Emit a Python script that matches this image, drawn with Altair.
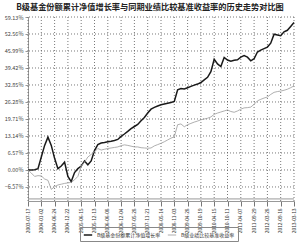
import altair as alt
import pandas as pd

TITLE = "B级基金份额累计净值增长率与同期业绩比较基准收益率的历史走势对比图"
SERIES = ["B级基金份额累计净值增长率", "B级业绩比较基准收益率"]

DATE_LABELS = ["2003-07-17", "2004-01-02", "2004-06-24", "2004-12-22", "2005-06-15",
               "2005-12-13", "2006-06-08", "2006-12-04", "2007-05-28", "2007-11-21",
               "2008-05-14", "2008-11-03", "2009-04-28", "2009-10-19", "2010-04-15",
               "2010-10-11", "2011-04-07", "2011-09-29", "2012-03-28", "2012-09-18",
               "2013-03-13"]

Y_TICKS = [-6.57, 0.0, 6.57, 13.14, 19.71, 26.28, 32.85, 39.42, 45.99, 52.56, 59.13]

FUND = [0, 0, 0.1, 0.5, 5, 9.5, 12.7, 9.5, 4.5, 0.5,
        1.5, 3, -2.5, -4.5, -1, 0.5, 1.5, 3.5, 2, 3.5,
        7.5, 9.8, 10.4, 10.6, 10.9, 11.1, 11.4, 11.8, 13, 13.9,
        14.9, 16, 16.8, 17.6, 19, 20.3, 22, 23.5, 24.2, 24.7,
        25.2, 25.5, 25.8, 26.1, 26.5, 31, 31.5, 31.3, 31.8, 32.3,
        32.8, 33.2, 33.8, 34.8, 35.8, 38, 42.8, 41, 40, 43.5,
        42.5, 42, 42.4, 42.6, 43.6, 44.2, 43.6, 42.2, 43, 45.6,
        46.3, 46.9, 47.5, 49, 52.5, 52.2, 51.9, 53.4, 54, 55.5,
        57]

BENCH = [0, -1.2, -2.5, -2.2, -2.3, -3.5, -4, -7.5, -6.5, -5.8,
         -5.5, -5.2, -5, -4.8, -3.8, -2.5, 1.5, 3, 5, 6,
         7, 8.3, 7.7, 8, 8.3, 8.5, 8.7, 8.9, 9.4, 9.7,
         9.5, 9.2, 8.9, 8.9, 8.6, 8.5, 8.4, 8.5, 9.3, 9.8,
         10.3, 10.9, 11.6, 12.3, 12.8, 17.5, 17.8, 16.7, 17.5, 18,
         18.5, 18.9, 19.4, 19.7, 20, 20.5, 21.5, 22, 22.4, 22.8,
         23.2, 22.6, 22.3, 22.8, 23.5, 24, 24.1, 24.3, 25.4, 26.7,
         27.3, 27.8, 28.2, 29.2, 30, 30.3, 30.5, 30.8, 31.2, 31.8,
         32.5]

STEPS_PER_LABEL = 4
idx = list(range(len(FUND)))
df = pd.DataFrame({
    "i": idx * 2,
    "v": FUND + BENCH,
    "s": [SERIES[0]] * len(FUND) + [SERIES[1]] * len(BENCH),
})

x_ticks = [k * STEPS_PER_LABEL for k in range(len(DATE_LABELS))]
label_js = "[" + ",".join("'" + d + "'" for d in DATE_LABELS) + "]"

FONT = "Noto Sans CJK SC"

x_scale = alt.Scale(domain=[0, (len(DATE_LABELS) - 1) * STEPS_PER_LABEL], nice=False, zero=False)
y_scale = alt.Scale(domain=[-12.0, 59.13], nice=False, zero=False)

X_AXIS = alt.Axis(values=x_ticks, title=None,
                  labelExpr=label_js + "[round(datum.value/" + str(STEPS_PER_LABEL) + ")]",
                  labelAngle=270, labelAlign="right", labelBaseline="middle",
                  labelFontSize=4.8, labelColor="#333", labelFont=FONT, labelPadding=2,
                  labelOverlap=False, grid=False,
                  tickSize=5, tickColor="#777",
                  domainColor="#999", domainWidth=1)
Y_AXIS = alt.Axis(values=Y_TICKS, title=None,
                  labelExpr="format(datum.value, '.2f') + '%'",
                  labelFontSize=5.5, labelColor="#444", labelFont=FONT, labelPadding=2,
                  labelOverlap=False, grid=False,
                  tickSize=3, tickColor="#999",
                  domainColor="#999", domainWidth=1)

grid_y = alt.Chart(pd.DataFrame({"v": Y_TICKS})).mark_rule(
    color="#555", strokeWidth=0.8, strokeDash=[1, 2]
).encode(y=alt.Y("v:Q", scale=y_scale, axis=Y_AXIS))

grid_x = alt.Chart(pd.DataFrame({"i": x_ticks})).mark_rule(
    color="#555", strokeWidth=0.8, strokeDash=[1, 2]
).encode(x=alt.X("i:Q", scale=x_scale, axis=X_AXIS))

base_line = alt.Chart(pd.DataFrame({"v": [-11.2]})).mark_rule(
    color="#999", strokeWidth=1
).encode(y=alt.Y("v:Q", scale=y_scale, axis=Y_AXIS))

lines = alt.Chart(df).mark_line().encode(
    x=alt.X("i:Q", scale=x_scale, axis=X_AXIS),
    y=alt.Y("v:Q", scale=y_scale, axis=Y_AXIS),
    color=alt.Color("s:N", scale=alt.Scale(domain=SERIES, range=["#1a1a1a", "#9a9a9a"]),
                    legend=alt.Legend(title=None, orient="none", legendX=52, legendY=210,
                                      direction="horizontal", symbolType="stroke",
                                      symbolSize=70, labelFontSize=5, labelFont=FONT,
                                      labelColor="#333", columnPadding=5,
                                      strokeColor="#888", padding=3, labelLimit=200)),
    strokeWidth=alt.StrokeWidth("s:N", scale=alt.Scale(domain=SERIES, range=[1.5, 0.8]),
                                legend=None),
)

chart = alt.layer(grid_y, grid_x, base_line, lines).properties(
    width=266, height=184,
    padding={"left": 28, "top": 17, "right": 6, "bottom": 41},
    autosize=alt.AutoSizeParams(type="none"),
    title=alt.TitleParams(TITLE, font=FONT, fontSize=8.2, fontWeight="bold",
                          anchor="middle", color="#222", offset=3, dx=-11),
).configure_view(stroke=None)

chart.save("out.html", embed_options={"renderer": "svg", "actions": False})
